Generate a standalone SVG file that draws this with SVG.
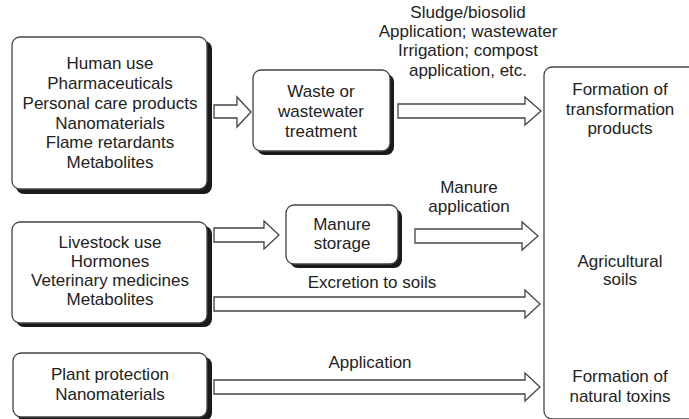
<svg xmlns="http://www.w3.org/2000/svg" width="689" height="419" viewBox="0 0 689 419">
  <style>
    .box { fill: #ffffff; stroke: #444444; stroke-width: 1.3; }
    .shadow { fill: #1a1a1a; }
    .arrow { fill: #ffffff; stroke: #444444; stroke-width: 1.3; stroke-linejoin: miter; }
    text { font-family: "Liberation Sans", Arial, sans-serif; font-size: 17px; fill: #222222; text-anchor: middle; }
  </style>
  <rect width="689" height="419" fill="#ffffff"/>

  <!-- Source: human use -->
  <g id="human-use">
    <rect class="shadow" x="16" y="41" width="196" height="153" rx="8"/>
    <rect class="box" x="12" y="37" width="195" height="152" rx="8"/>
    <text x="110" y="69">Human use</text>
    <text x="110" y="89">Pharmaceuticals</text>
    <text x="110" y="109">Personal care products</text>
    <text x="110" y="129">Nanomaterials</text>
    <text x="110" y="148">Flame retardants</text>
    <text x="110" y="168">Metabolites</text>
  </g>

  <!-- Treatment step -->
  <g id="waste-treatment">
    <rect class="shadow" x="257" y="74" width="137" height="81" rx="8"/>
    <rect class="box" x="253" y="70" width="137" height="81" rx="8"/>
    <text x="321" y="97">Waste or</text>
    <text x="321" y="117">wastewater</text>
    <text x="321" y="137">treatment</text>
  </g>

  <!-- Source: livestock use -->
  <g id="livestock-use">
    <rect class="shadow" x="16" y="226" width="196" height="101" rx="8"/>
    <rect class="box" x="12" y="222" width="195" height="101" rx="8"/>
    <text x="110" y="248">Livestock use</text>
    <text x="110" y="267">Hormones</text>
    <text x="110" y="286">Veterinary medicines</text>
    <text x="110" y="305">Metabolites</text>
  </g>

  <!-- Storage step -->
  <g id="manure-storage">
    <rect class="shadow" x="290" y="209" width="112" height="59" rx="8"/>
    <rect class="box" x="286" y="205" width="112" height="59" rx="8"/>
    <text x="342" y="230">Manure</text>
    <text x="342" y="249">storage</text>
  </g>

  <!-- Source: plant protection -->
  <g id="plant-protection">
    <rect class="shadow" x="17" y="357" width="195" height="64" rx="8"/>
    <rect class="box" x="13" y="353" width="194" height="64" rx="8"/>
    <text x="110" y="380">Plant protection</text>
    <text x="110" y="400">Nanomaterials</text>
  </g>

  <!-- Receiving compartment -->
  <g id="agricultural-soils">
    <rect class="box" x="544" y="67" width="200" height="352" rx="8"/>
    <text x="620" y="95">Formation of</text>
    <text x="620" y="115">transformation</text>
    <text x="620" y="134">products</text>
    <text x="620" y="267">Agricultural</text>
    <text x="620" y="285">soils</text>
    <text x="620" y="382">Formation of</text>
    <text x="620" y="402">natural toxins</text>
  </g>

  <!-- Block arrows and their labels -->
  <g id="connectors">
    <polygon class="arrow" points="214,105 237,105 237,97 251,112 237,127 237,118 214,118"/>
    <polygon class="arrow" points="398,104 525,104 525,97 541,111 525,125 525,118 398,118"/>
    <polygon class="arrow" points="214,228 264,228 264,221 279,235 264,249 264,242 214,242"/>
    <polygon class="arrow" points="415,229 522,229 522,222 538,236 522,250 522,243 415,243"/>
    <polygon class="arrow" points="214,297 525,297 525,290 540,304 525,318 525,311 214,311"/>
    <polygon class="arrow" points="214,380 525,380 525,373 540,387 525,401 525,394 214,394"/>

    <text x="468" y="18">Sludge/biosolid</text>
    <text x="468" y="37">Application; wastewater</text>
    <text x="468" y="56">Irrigation; compost</text>
    <text x="468" y="76">application, etc.</text>
    <text x="469" y="193">Manure</text>
    <text x="469" y="212">application</text>
    <text x="372" y="288">Excretion to soils</text>
    <text x="370" y="368">Application</text>
  </g>
</svg>
